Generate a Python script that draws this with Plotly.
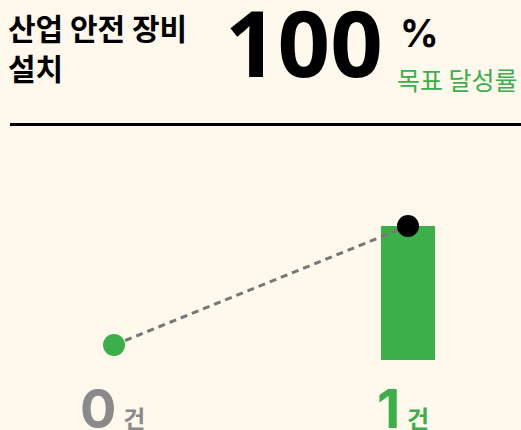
import plotly.graph_objects as go

# Data
categories = [0, 1]               # previous, current
values = [0, 1]                   # 건
unit = "건"
title_lines = ["산업 안전 장비", "설치"]
rate = 100
rate_label = "목표 달성률"

BG = "#FEF9EC"
GREEN = "#3AAF4A"
GRAY = "#8A8A8A"
W, H = 521, 430

fig = go.Figure()

# current bar
fig.add_trace(go.Bar(x=[categories[1]], y=[values[1]], width=54 / 294,
                     marker=dict(color=GREEN, line=dict(width=0)),
                     hoverinfo="skip", showlegend=False, yaxis="y"))

# dashed connecting line and dots
fig.add_trace(go.Scatter(x=categories, y=values, mode="lines+markers",
                         line=dict(color="#777777", width=3, dash="7px,5px"),
                         marker=dict(size=22, color=[GREEN, "#000000"], line=dict(width=0)),
                         hoverinfo="skip", showlegend=False, yaxis="y2"))

# axis ranges (full-canvas plot area)
x0 = -114 / 294
x1 = x0 + W / 294
yb0 = -(H - 360) / 134
yb1 = yb0 + H / 134
yl0 = -(H - 345) / 119
yl1 = yl0 + H / 119

annotations = []
# value labels under each category
label_colors = [GRAY, GREEN]
for c, v, col in zip(categories, values, label_colors):
    annotations.append(dict(
        x=c, xref="x", y=1 - 427 / H, yref="paper",
        xanchor="left", yanchor="bottom", xshift=-36 if c == 0 else -33, yshift=-16,
        text=f"<b>{v}</b><span style='font-size:24px'> <b>{unit}</b></span>",
        showarrow=False, font=dict(size=54, color=col, family="Inter, Noto Sans CJK KR")))

# title (two lines)
for i, line in enumerate(title_lines):
    annotations.append(dict(
        x=6 / W, y=1 - (3 + 40 * i) / H, xref="paper", yref="paper",
        xanchor="left", yanchor="top",
        text=f"<b>{line}</b>", align="left", showarrow=False,
        font=dict(size=30, color="#000000", family="Noto Sans CJK KR")))
# big rate
annotations.append(dict(
    x=385 / W, y=1 + 23 / H, xref="paper", yref="paper", xanchor="right", yanchor="top",
    text=f"<b>{rate}</b>", showarrow=False,
    font=dict(size=92, color="#000000", family="Open Sans", weight=800)))
annotations.append(dict(
    x=398 / W, y=1 - 8 / H, xref="paper", yref="paper", xanchor="left", yanchor="top",
    text="<b>%</b>", showarrow=False,
    font=dict(size=38, color="#000000", family="Inter, Noto Sans")))
annotations.append(dict(
    x=395 / W, y=1 - 59 / H, xref="paper", yref="paper", xanchor="left", yanchor="top",
    text=rate_label, showarrow=False,
    font=dict(size=25, color=GREEN, family="Noto Sans CJK KR")))

fig.update_layout(
    width=W, height=H,
    margin=dict(l=0, r=0, t=0, b=0, pad=0),
    paper_bgcolor=BG, plot_bgcolor=BG,
    xaxis=dict(range=[x0, x1], visible=False, fixedrange=True),
    yaxis=dict(range=[yb0, yb1], visible=False, fixedrange=True),
    yaxis2=dict(range=[yl0, yl1], visible=False, overlaying="y", fixedrange=True),
    annotations=annotations,
    shapes=[dict(type="line", xref="paper", yref="paper",
                 x0=10 / W, x1=1, y0=1 - 124.5 / H, y1=1 - 124.5 / H,
                 line=dict(color="#000000", width=3))],
    bargap=0,
)

fig.write_html("out.html", config={"displayModeBar": False},
               post_script="document.body.style.margin='0';document.body.style.overflow='hidden';"
                           "document.body.style.background='" + BG + "';")
